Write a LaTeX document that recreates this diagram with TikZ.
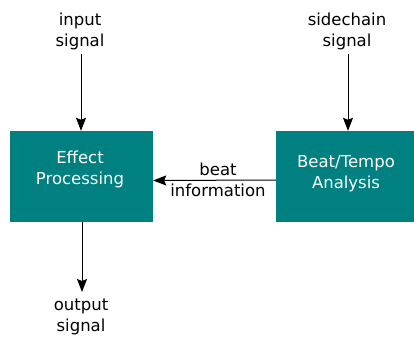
\documentclass[tikz,border=0pt]{standalone}
\usepackage{fontspec}
\setmainfont{DejaVu Sans}
\usetikzlibrary{arrows.meta}
\definecolor{tealbox}{RGB}{0,128,128}
\tikzset{
  box/.style={fill=tealbox, draw=none, inner sep=0pt},
  boxtext/.style={text=white, align=center, inner sep=0pt, font=\fontsize{16.5}{21}\selectfont},
  lbl/.style={text=black, align=center, inner sep=0pt, font=\fontsize{16.5}{21}\selectfont},
  arr/.style={-{Stealth[length=13pt,width=10pt,inset=2pt]}, line width=1pt, black},
}
\begin{document}
\begin{tikzpicture}[x=1pt,y=-1pt]
\useasboundingbox (0,0) rectangle (414,338);
\node[box, minimum width=143pt, minimum height=91pt] (fx) at (81.5,176.5) {};
\node[boxtext] (fxt) at (80,169) {Effect\\Processing};
\node[box, minimum width=143pt, minimum height=91pt] (bt) at (347.5,176.5) {};
\node[boxtext] (btt) at (346,173.5) {Beat/Tempo\\Analysis};
\node[lbl] (in) at (80,31) {input\\signal};
\node[lbl] (sc) at (347,31) {sidechain\\signal};
\node[lbl] (out) at (81,316.5) {output\\signal};
\node[lbl] (bi) at (218,179.5) {beat\\information};
\coordinate (inS) at (81,54);
\coordinate (scS) at (348,54);
\coordinate (outE) at (82,292);
\draw[arr] (inS) -- (inS |- fx.north);
\draw[arr] (scS) -- (scS |- bt.north);
\draw[arr] (outE |- fx.south) -- (outE);
\draw[arr] ([yshift=-3.5pt]bt.west) -- ([yshift=-4pt]fx.east);
\end{tikzpicture}
\end{document}
